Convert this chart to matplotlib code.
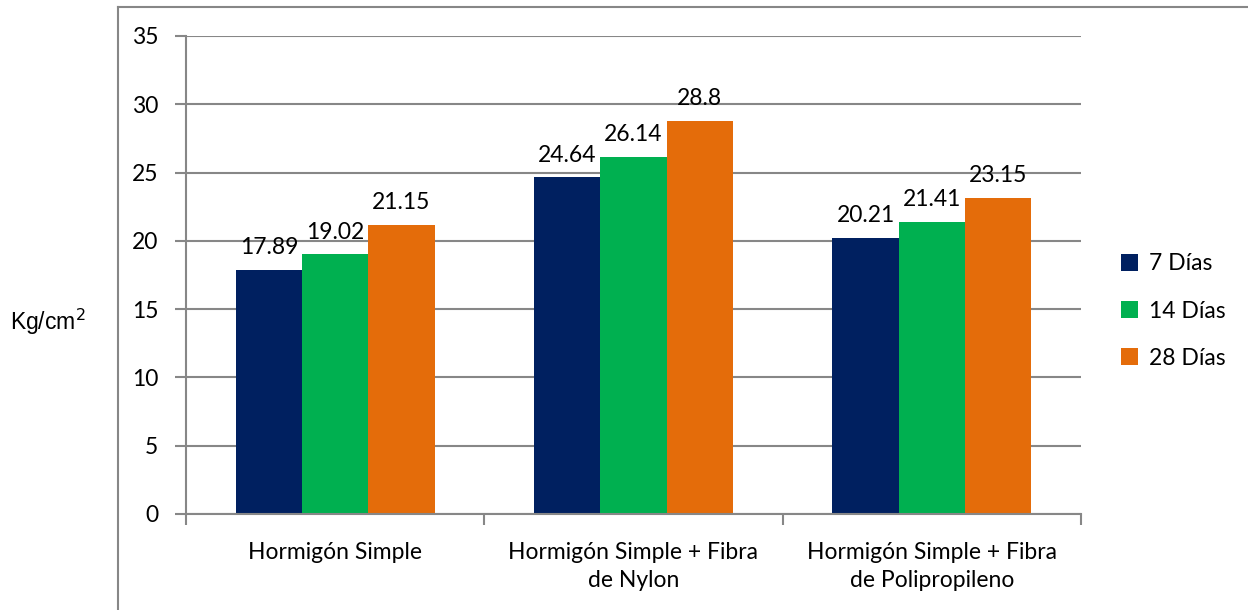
import matplotlib
matplotlib.use("Agg")
import matplotlib.pyplot as plt
from matplotlib.lines import Line2D
import numpy as np

categories = ["Hormigón Simple", "Hormigón Simple + Fibra\nde Nylon",
              "Hormigón Simple + Fibra\nde Polipropileno"]
series_names = ["7 Días", "14 Días", "28 Días"]
dias_7 = [17.89, 24.64, 20.21]
dias_14 = [19.02, 26.14, 21.41]
dias_28 = [21.15, 28.8, 23.15]
label_7 = ["17.89", "24.64", "20.21"]
label_14 = ["19.02", "26.14", "21.41"]
label_28 = ["21.15", "28.8", "23.15"]
colors = ["#002060", "#00B050", "#E46C0A"]

font = "Lato"
fs = 16.5
grid_col = "#878787"

fig = plt.figure(figsize=(12.48, 6.10), dpi=100)
ax = fig.add_axes([186 / 1248, 1 - 514 / 610, (1081 - 186) / 1248, (514 - 36) / 610])

x = np.arange(len(categories))
w = 0.222
for i, (vals, labs) in enumerate(zip([dias_7, dias_14, dias_28], [label_7, label_14, label_28])):
    pos = x + (i - 1) * w
    bars = ax.bar(pos, vals, width=w, color=colors[i], label=series_names[i], zorder=3)
    for b, lab in zip(bars, labs):
        ax.text(b.get_x() + b.get_width() / 2, b.get_height() + 1.15, lab,
                ha="center", va="baseline", fontsize=fs, family=font, color="black")

ax.set_xlim(-0.5, 2.5)
ax.set_ylim(0, 35)
ax.set_yticks(range(0, 36, 5))
ax.set_xticks([-0.5, 0.5, 1.5, 2.5], minor=False)
ax.set_xticklabels([])
ax.set_xticks(x, minor=True)
ax.set_xticklabels(categories, minor=True, fontsize=fs, family=font, linespacing=1.45)
ax.tick_params(axis="x", which="minor", length=0, pad=20)
ax.tick_params(axis="x", which="major", length=8, width=1.5, color=grid_col, direction="out")
ax.tick_params(axis="y", length=8, width=1.5, color=grid_col, direction="out", pad=12,
               labelsize=fs)
for t in ax.get_yticklabels():
    t.set_family(font)

ax.yaxis.grid(True, color=grid_col, lw=1.5, zorder=0)
ax.set_axisbelow(True)
for s in ["top", "right"]:
    ax.spines[s].set_visible(False)
for s in ["left", "bottom"]:
    ax.spines[s].set_color(grid_col)
    ax.spines[s].set_linewidth(1.5)
ax.spines["bottom"].set_zorder(4)

fig.text(10 / 1248, 1 - 322 / 610, "Kg/cm$^{2}$", fontsize=16.5, family="Liberation Sans",
         ha="left", va="center")

leg = fig.legend(loc="center left", bbox_to_anchor=(1100 / 1248, 1 - 311 / 610),
                 frameon=False, prop={"family": font, "size": fs},
                 handlelength=0.75, handleheight=0.75, handletextpad=0.5, labelspacing=1.15)

# outer chart frame
fig.add_artist(Line2D([117.5 / 1248, 117.5 / 1248], [0, 1 - 7 / 610], color=grid_col, lw=1.5))
fig.add_artist(Line2D([117.5 / 1248, 1], [1 - 7 / 610, 1 - 7 / 610], color=grid_col, lw=1.5))

fig.savefig("out.png", dpi=100)
